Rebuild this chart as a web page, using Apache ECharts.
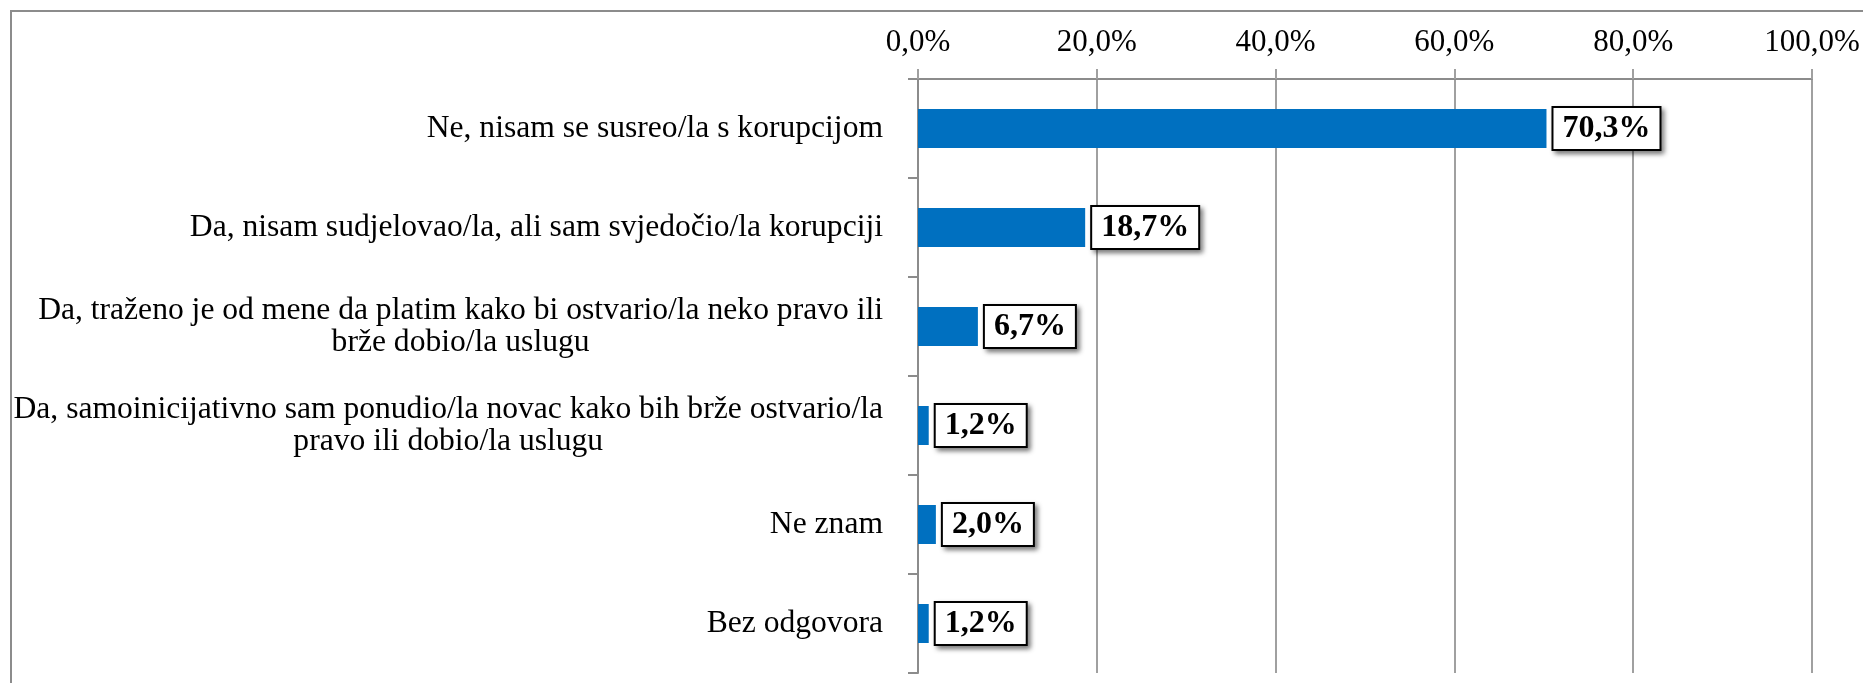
<!DOCTYPE html>
<html>
<head>
<meta charset="utf-8">
<title>Susret s korupcijom</title>
<script src="https://cdn.jsdelivr.net/npm/echarts@6/dist/echarts.min.js"></script>
<style>
  html, body { margin: 0; padding: 0; background: #ffffff; }
  #chart { width: 1863px; height: 683px; }
</style>
</head>
<body>
<div id="chart"></div>
<script>
// Answer categories, top to bottom
const categories = [
  'Ne, nisam se susreo/la s korupcijom',
  'Da, nisam sudjelovao/la, ali sam svjedočio/la korupciji',
  'Da, traženo je od mene da platim kako bi ostvario/la neko pravo ili\nbrže dobio/la uslugu',
  'Da, samoinicijativno sam ponudio/la novac kako bih brže ostvario/la\npravo ili dobio/la uslugu',
  'Ne znam',
  'Bez odgovora'
];

// Share of respondents, percent
const values = [70.3, 18.7, 6.7, 1.2, 2.0, 1.2];

// Value axis ticks, percent
const axisMin = 0;
const axisMax = 100;
const axisStep = 20;

const FONT = '"Liberation Serif", "DejaVu Serif", serif';
const GRID_GRAY = '#a0a0a0';
const AXIS_GRAY = '#8c8c8c';

const pct = v => Number(v).toFixed(1).replace('.', ',') + '%';

const chart = echarts.init(document.getElementById('chart'), null, { renderer: 'canvas' });

chart.setOption({
  backgroundColor: '#ffffff',
  animation: false,
  graphic: [{
    type: 'polyline',
    shape: { points: [[11, 700], [11, 11], [1880, 11]] },
    style: { stroke: AXIS_GRAY, lineWidth: 2, fill: null },
    silent: true
  }],
  grid: { left: 918, right: 51, top: 79, bottom: 10, containLabel: false },
  xAxis: {
    type: 'value',
    position: 'top',
    min: axisMin,
    max: axisMax,
    interval: axisStep,
    axisLine: { show: true, lineStyle: { color: AXIS_GRAY, width: 2 } },
    axisTick: { show: true, length: 10, lineStyle: { color: GRID_GRAY, width: 2 } },
    splitLine: { show: true, lineStyle: { color: GRID_GRAY, width: 2 } },
    axisLabel: {
      formatter: v => pct(v),
      color: '#000',
      fontFamily: FONT,
      fontSize: 31,
      lineHeight: 31,
      margin: 21
    }
  },
  yAxis: {
    type: 'category',
    inverse: true,
    data: categories,
    axisLine: { show: true, lineStyle: { color: AXIS_GRAY, width: 2 } },
    axisTick: { show: true, length: 10, lineStyle: { color: AXIS_GRAY, width: 2 } },
    splitLine: { show: false },
    axisLabel: {
      margin: 35,
      align: 'right',
      formatter: v => v.split('\n').map(line => '{c|' + line + '}').join('\n'),
      rich: {
        c: {
          align: 'center',
          color: '#000',
          fontFamily: FONT,
          fontSize: 31.6,
          lineHeight: 32
        }
      }
    }
  },
  series: [{
    type: 'bar',
    data: values,
    barWidth: 39,
    itemStyle: { color: '#0070c0' },
    label: {
      show: true,
      position: 'right',
      distance: 7,
      formatter: p => pct(p.value),
      color: '#000',
      fontFamily: FONT,
      fontWeight: 'bold',
      fontSize: 32,
      lineHeight: 32,
      backgroundColor: '#ffffff',
      borderColor: '#000000',
      borderWidth: 2,
      padding: [5, 9, 4, 9],
      shadowColor: 'rgba(0,0,0,0.45)',
      shadowBlur: 5,
      shadowOffsetX: 3,
      shadowOffsetY: 3
    }
  }]
});
</script>
</body>
</html>
